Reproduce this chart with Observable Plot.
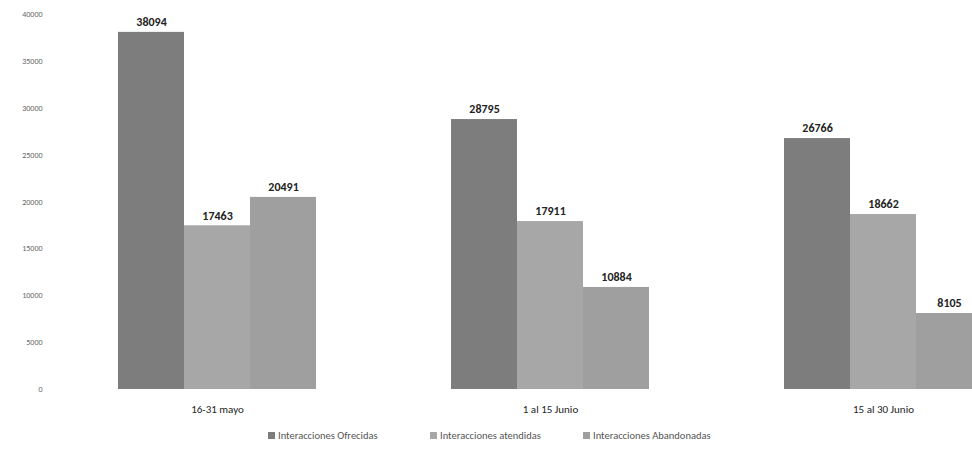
<!DOCTYPE html>
<html>
<head>
<meta charset="utf-8">
<script src="https://cdn.jsdelivr.net/npm/d3@7"></script>
<script src="https://cdn.jsdelivr.net/npm/@observablehq/plot@0.6"></script>
<style>
  html, body { margin: 0; padding: 0; background: #fff; }
  body { width: 972px; height: 452px; overflow: hidden; font-family: Carlito, "Liberation Sans", "Open Sans", sans-serif; }
  #legend { position: relative; height: 32px; font-size: 10.5px; color: #555; }
  #legend span.item { position: absolute; top: 9px; display: inline-flex; align-items: center; white-space: nowrap; }
  #legend span.sw { width: 7px; height: 7px; display: inline-block; margin-right: 3px; }
</style>
</head>
<body>
<div id="chart"></div>
<div id="legend"></div>
<script>
const periods = ["16-31 mayo", "1 al 15 Junio", "15 al 30 Junio"];
const series = ["Interacciones Ofrecidas", "Interacciones atendidas", "Interacciones Abandonadas"];
const ofrecidas = [38094, 28795, 26766];
const atendidas = [17463, 17911, 18662];
const abandonadas = [20491, 10884, 8105];
const colors = ["#7d7d7d", "#a7a7a7", "#9f9f9f"];
const yTicks = [0, 5000, 10000, 15000, 20000, 25000, 30000, 35000, 40000];

const valuesBySeries = [ofrecidas, atendidas, abandonadas];
const data = [];
periods.forEach((p, i) => {
  series.forEach((s, j) => data.push({period: p, series: s, value: valuesBySeries[j][i]}));
});

const chart = Plot.plot({
  width: 972,
  height: 420,
  marginTop: 14,
  marginBottom: 31,
  marginLeft: 50,
  marginRight: 0,
  style: {fontFamily: "Carlito, 'Liberation Sans', sans-serif", background: "#fff"},
  fx: {domain: periods, range: [117, 983], padding: 0.4, label: null},
  x: {domain: series, padding: 0, axis: null},
  y: {domain: [0, 40000], label: null},
  color: {domain: series, range: colors},
  marks: [
    Plot.axisY({ticks: yTicks, tickSize: 0, tickPadding: 75, tickFormat: d => String(d), fontSize: 8, fill: "#666", color: "#666"}),
    Plot.axisFx({anchor: "bottom", tickSize: 0, tickPadding: 16, fontSize: 11, fill: "#222", color: "#222"}),
    Plot.barY(data, {fx: "period", x: "series", y: "value", fill: "series"}),
    Plot.text(data, {fx: "period", x: "series", y: "value", text: d => String(d.value), dy: -10, fontSize: 12, fontWeight: "bold", fill: "#222"})
  ]
});
document.getElementById("chart").appendChild(chart);

const legendLeft = [268, 430, 583];
const legend = document.getElementById("legend");
series.forEach((s, j) => {
  const item = document.createElement("span");
  item.className = "item";
  item.style.left = legendLeft[j] + "px";
  const sw = document.createElement("span");
  sw.className = "sw";
  sw.style.background = colors[j];
  item.appendChild(sw);
  item.appendChild(document.createTextNode(s));
  legend.appendChild(item);
});
</script>
</body>
</html>
